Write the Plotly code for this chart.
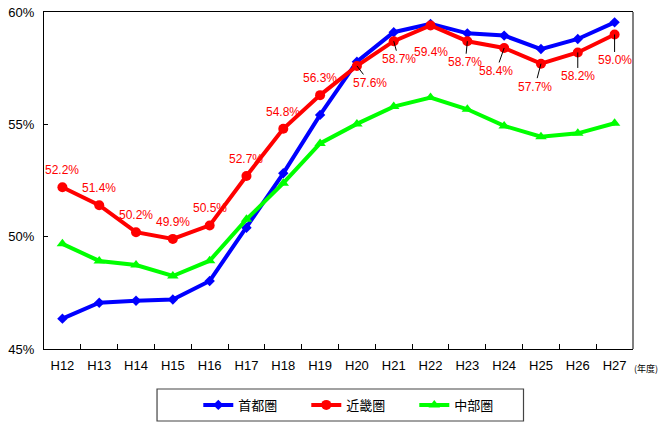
import plotly.graph_objects as go

years = ["H12", "H13", "H14", "H15", "H16", "H17", "H18", "H19",
         "H20", "H21", "H22", "H23", "H24", "H25", "H26", "H27"]
shuto = [46.35, 47.06, 47.15, 47.2, 48.03, 50.4, 52.82, 55.42,
         57.79, 59.1, 59.47, 59.05, 58.95, 58.35, 58.8, 59.54]
kinki = [52.2, 51.4, 50.2, 49.9, 50.5, 52.7, 54.8, 56.3,
         57.6, 58.7, 59.4, 58.7, 58.4, 57.7, 58.2, 59.0]
chubu = [49.68, 48.92, 48.74, 48.25, 48.93, 50.77, 52.38, 54.15,
         55.02, 55.79, 56.19, 55.67, 54.93, 54.45, 54.6, 55.05]
series_names = ["首都圏", "近畿圏", "中部圏"]
y_ticks = [45, 50, 55, 60]
y_tick_labels = ["45%", "50%", "55%", "60%"]

# label offsets (pixels): None = plain label above point, else (ax, ay) leader offsets
label_offsets = [None] * 8 + [(13, 17), (5, 18), (0, 27), (-2, 21),
                              (-8, 23), (-6, 23), (0, 24), (0, 26)]

FONT = "Arial, 'Liberation Sans', 'Noto Sans CJK JP', sans-serif"
JFONT = "'Noto Sans CJK JP', sans-serif"

fig = go.Figure()
fig.add_trace(go.Scatter(x=years, y=shuto, name=series_names[0], mode="lines+markers",
                         line=dict(color="#0000FF", width=4),
                         marker=dict(symbol="diamond", size=8, color="#0000FF")))
fig.add_trace(go.Scatter(x=years, y=kinki, name=series_names[1], mode="lines+markers",
                         line=dict(color="#FF0000", width=4),
                         marker=dict(symbol="circle", size=10, color="#FF0000")))
fig.add_trace(go.Scatter(x=years, y=chubu, name=series_names[2], mode="lines+markers",
                         line=dict(color="#00FF00", width=4),
                         marker=dict(symbol="triangle-up", size=10, color="#00FF00")))

annotations = []
for yr, v, off in zip(years, kinki, label_offsets):
    txt = f"{v:.1f}%"
    if off is None:
        annotations.append(dict(x=yr, y=v, text=txt, showarrow=False, yshift=17,
                                font=dict(family=FONT, size=12, color="#FF0000")))
    else:
        annotations.append(dict(x=yr, y=v, text=txt, showarrow=True, ax=off[0], ay=off[1],
                                arrowhead=0, arrowwidth=1, arrowcolor="#000000", standoff=0,
                                font=dict(family=FONT, size=12, color="#FF0000")))
annotations.append(dict(xref="paper", yref="paper", x=0.998, y=-0.058, xanchor="left",
                        yanchor="middle", text="(年度)", showarrow=False,
                        font=dict(family=JFONT, size=9, color="#000000")))

shapes = [
    dict(type="line", xref="paper", yref="paper", x0=1, x1=1, y0=0, y1=1,
         line=dict(color="#808080", width=2)),
    dict(type="rect", xref="paper", yref="paper", x0=0.1919, x1=0.8141,
         y0=-0.1187, y1=-0.2136, line=dict(color="#444444", width=1.2)),
]

fig.update_layout(
    width=664, height=424,
    margin=dict(l=44, r=31, t=12, b=75, autoexpand=False),
    plot_bgcolor="white", paper_bgcolor="white",
    font=dict(family=FONT, size=13, color="#000000"),
    showlegend=True,
    legend=dict(orientation="h", x=0.537, xanchor="center", y=-0.166, yanchor="middle",
                font=dict(family=JFONT, size=13), bgcolor="rgba(0,0,0,0)",
                entrywidth=63, itemwidth=30),
    annotations=annotations,
    shapes=shapes,
)
fig.update_xaxes(type="category", range=[-0.5, len(years) - 0.5],
                 showline=True, linecolor="#000000", linewidth=1.2,
                 mirror=True, ticks="inside", ticklen=5, tickcolor="#000000",
                 tickson="boundaries", showgrid=False, zeroline=False, automargin=False,
                 ticklabelstandoff=4, tickfont=dict(family=FONT, size=13))
fig.update_yaxes(range=[45, 60], tickvals=y_ticks, ticktext=y_tick_labels,
                 showline=True, linecolor="#000000", linewidth=1.2, mirror=False,
                 ticks="inside", ticklen=4, tickcolor="#000000", showgrid=False,
                 zeroline=False, automargin=False, ticklabelstandoff=6,
                 tickfont=dict(family=FONT, size=13))

fig.write_html("out.html", config={"displayModeBar": False},
               post_script="document.body.style.margin='0';document.body.style.overflow='hidden';")
